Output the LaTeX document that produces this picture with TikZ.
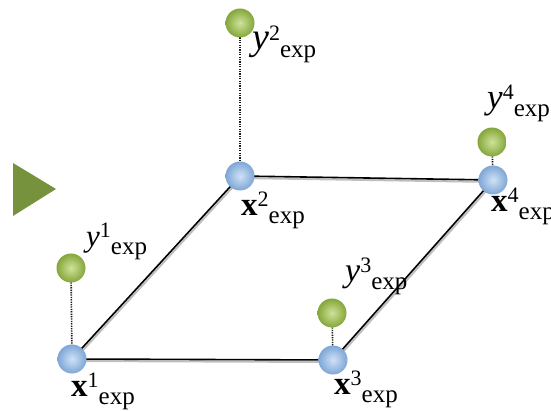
\documentclass[tikz,border=0pt]{standalone}
\usepackage{fontspec}
\setmainfont{Liberation Serif}
\usetikzlibrary{backgrounds}
\definecolor{olivetri}{HTML}{76923C}
\definecolor{blueout}{HTML}{7EA6D6}
\definecolor{bluein}{HTML}{CFE2F6}
\definecolor{greenout}{HTML}{84A63A}
\definecolor{greenin}{HTML}{CFE39A}
\newcommand{\elab}[3]{\fontsize{#1}{#1}\selectfont #2\raisebox{9pt}{\fontsize{22}{22}\selectfont #3}\raisebox{-8pt}{\fontsize{25}{25}\selectfont exp}}
\tikzset{
  bball/.style={circle, minimum size=29pt, inner sep=0pt, shading=radial, inner color=bluein, outer color=blueout},
  gball/.style={circle, minimum size=29pt, inner sep=0pt, shading=radial, inner color=greenin, outer color=greenout},
  lab/.style={inner sep=0pt, anchor=base west},
  edge/.style={line width=1.6pt, black},
  eshadow/.style={line width=2pt, black!25},
  stem/.style={line width=1.6pt, black!90, dash pattern=on 1.3pt off 1.1pt}
}
\begin{document}
\begin{tikzpicture}[x=1pt,y=-1pt]
\useasboundingbox (0,0) rectangle (551,411);
\fill[olivetri] (13,163) -- (13,216) -- (56,189) -- cycle;
% balls
\node[bball] (b1) at (72,359) {};
\node[bball] (b2) at (240,176) {};
\node[bball] (b3) at (333,360) {};
\node[bball] (b4) at (493,180) {};
\node[gball] (g1) at (71,268) {};
\node[gball] (g2) at (240,23) {};
\node[gball] (g3) at (332,313) {};
\node[gball] (g4) at (492,142) {};
\begin{pgfonlayer}{background}
  \draw[eshadow] ([shift={(1,2)}]b1.center) -- ([shift={(1,2)}]b2.center);
  \draw[eshadow] ([shift={(1,2)}]b1.center) -- ([shift={(1,2)}]b3.center);
  \draw[eshadow] ([shift={(1,2)}]b2.center) -- ([shift={(1,2)}]b4.center);
  \draw[eshadow] ([shift={(1,2)}]b3.center) -- ([shift={(1,2)}]b4.center);
  \draw[edge] (b1.center) -- (b2.center);
  \draw[edge] (b1.center) -- (b3.center);
  \draw[edge] (b2.center) -- (b4.center);
  \draw[edge] (b3.center) -- (b4.center);
  \draw[stem] (g1.center) -- (b1.center);
  \draw[stem] (g2.center) -- (b2.center);
  \draw[stem] (g3.center) -- (b3.center);
  \draw[stem] (g4.center) -- (b4.center);
\end{pgfonlayer}
% labels
\node[lab] (ly1) at (86,247) {\elab{31}{\textit{y}}{1}};
\node[lab] (ly2) at (252,50) {\elab{38}{\textit{y}}{2}};
\node[lab] (ly3) at (345,282) {\elab{34}{\textit{y}}{3}};
\node[lab] (ly4) at (487,109) {\elab{35}{\textit{y}}{4}};
\node[lab] (lx1) at (71,396) {\elab{33}{\textbf{x}}{1}};
\node[lab] (lx2) at (241,216) {\elab{33}{\textbf{x}}{2}};
\node[lab] (lx3) at (334,394) {\elab{33}{\textbf{x}}{3}};
\node[lab] (lx4) at (491,212) {\elab{33}{\textbf{x}}{4}};
\end{tikzpicture}
\end{document}
